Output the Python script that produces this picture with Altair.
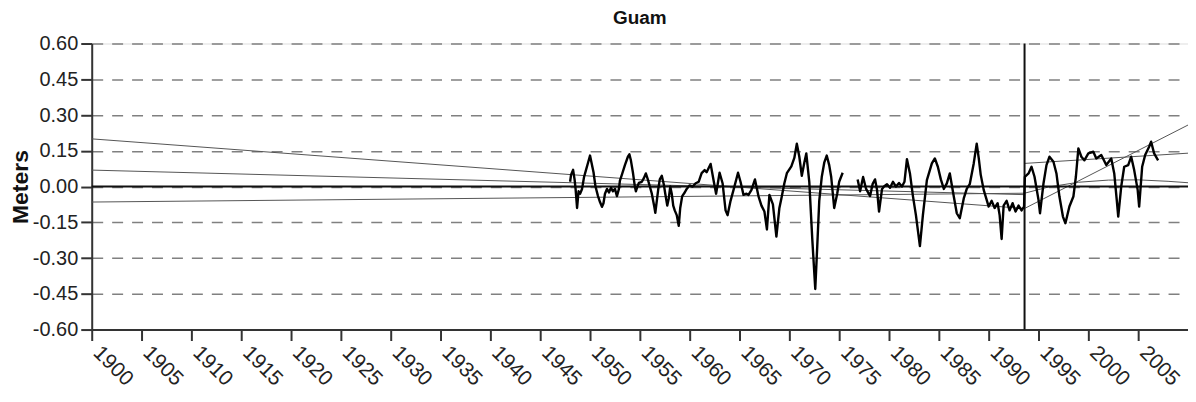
import altair as alt
import pandas as pd

# ---- observed series, segment 1 (1948 - 1975) ----
years_1 = [1948.0, 1948.1, 1948.3, 1948.45, 1948.55, 1948.7, 1948.85, 1949.0, 1949.2, 1949.4,
           1949.6, 1949.8, 1950.0, 1950.15, 1950.35, 1950.55, 1950.8, 1951.0, 1951.2, 1951.35,
           1951.5, 1951.7, 1951.9, 1952.1, 1952.3, 1952.5, 1952.7, 1952.9, 1953.0, 1953.2,
           1953.5, 1953.8, 1953.95, 1954.1, 1954.3, 1954.5, 1954.6, 1954.75, 1954.9, 1955.2,
           1955.4, 1955.6, 1955.8, 1956.0, 1956.2, 1956.45, 1956.55, 1956.7, 1956.85, 1957.0,
           1957.2, 1957.4, 1957.55, 1957.75, 1957.9, 1958.05, 1958.2, 1958.35, 1958.5, 1958.7,
           1958.9, 1959.05, 1959.25, 1959.5, 1959.7, 1960.0, 1960.3, 1960.6, 1960.9, 1961.2,
           1961.5, 1961.7, 1962.1, 1962.4, 1962.65, 1963.0, 1963.3, 1963.6, 1963.8, 1964.1,
           1964.4, 1964.85, 1965.1, 1965.4, 1965.7, 1965.9, 1966.2, 1966.55, 1966.9, 1967.2,
           1967.5, 1967.75, 1968.0, 1968.35, 1968.7, 1969.0, 1969.2, 1969.5, 1969.75, 1970.2,
           1970.5, 1970.75, 1971.0, 1971.25, 1971.5, 1971.7, 1972.0, 1972.3, 1972.6, 1972.8,
           1973.0, 1973.25, 1973.5, 1973.75, 1974.0, 1974.2, 1974.5, 1974.8, 1975.0, 1975.35]
values_1 = [0.02, 0.05, 0.07, 0.03, -0.01, -0.09, -0.02, -0.03, -0.01, 0.04,
            0.07, 0.10, 0.13, 0.10, 0.06, 0.00, -0.04, -0.065, -0.085, -0.07,
            -0.03, -0.01, -0.025, -0.005, -0.02, -0.01, -0.04, -0.01, 0.025, 0.05,
            0.09, 0.125, 0.135, 0.11, 0.06, 0.00, -0.02, 0.00, 0.015, 0.02,
            0.035, 0.055, 0.03, 0.00, -0.03, -0.085, -0.11, -0.06, -0.01, 0.03,
            0.045, 0.01, -0.03, -0.08, -0.05, 0.00, -0.03, -0.08, -0.10, -0.12,
            -0.165, -0.09, -0.04, -0.025, -0.01, 0.005, 0.00, 0.014, 0.02, 0.056,
            0.069, 0.06, 0.095, 0.025, -0.03, 0.058, 0.014, -0.10, -0.12, -0.06,
            -0.014, 0.058, 0.02, -0.035, -0.03, -0.035, -0.014, 0.03, -0.04, -0.08,
            -0.105, -0.18, -0.035, -0.075, -0.21, -0.09, -0.05, 0.014, 0.056, 0.085,
            0.12, 0.18, 0.125, 0.045, 0.10, 0.139, 0.02, -0.22, -0.43, -0.25,
            -0.06, 0.04, 0.10, 0.13, 0.09, 0.04, -0.09, -0.03, 0.02, 0.058]

# ---- observed series, segment 2 (1977 - 2007) ----
years_2 = [1976.85, 1977.1, 1977.4, 1977.7, 1978.1, 1978.35, 1978.6, 1978.8, 1979.0, 1979.3,
           1979.5, 1979.8, 1980.1, 1980.4, 1980.7, 1981.0, 1981.3, 1981.55, 1981.8, 1982.1,
           1982.4, 1982.7, 1983.1, 1983.4, 1983.8, 1984.3, 1984.6, 1984.9, 1985.2, 1985.5,
           1985.8, 1986.1, 1986.5, 1986.8, 1987.1, 1987.5, 1987.8, 1988.1, 1988.5, 1988.8,
           1989.0, 1989.2, 1989.5, 1990.0, 1990.3, 1990.6, 1990.9, 1991.1, 1991.3, 1991.5,
           1991.8, 1992.1, 1992.4, 1992.7, 1993.0, 1993.3, 1993.55, 1993.63, 1994.0, 1994.3,
           1994.6, 1995.0, 1995.15, 1995.5, 1995.8, 1996.1, 1996.5, 1996.8, 1997.1, 1997.45,
           1997.7, 1998.1, 1998.5, 1998.75, 1999.0, 1999.3, 1999.6, 2000.0, 2000.5, 2000.8,
           2001.3, 2001.8, 2002.3, 2002.6, 2002.85, 2003.0, 2003.3, 2003.6, 2004.0, 2004.3,
           2004.6, 2004.95, 2005.1, 2005.4, 2005.7, 2006.1, 2006.3, 2006.6, 2007.0]
values_2 = [0.03, -0.02, 0.04, -0.01, -0.04, 0.01, 0.03, -0.014, -0.105, -0.01,
            0.0, 0.01, -0.005, 0.02, 0.0, 0.015, 0.0, 0.02, 0.115, 0.055,
            -0.04, -0.12, -0.25, -0.12, 0.027, 0.097, 0.118, 0.083, 0.03, -0.01,
            0.013, 0.055, -0.042, -0.112, -0.133, -0.05, -0.01, 0.01, 0.097, 0.18,
            0.12, 0.05, -0.014, -0.084, -0.06, -0.09, -0.07, -0.12, -0.22, -0.08,
            -0.06, -0.10, -0.07, -0.105, -0.08, -0.10, -0.084, 0.041, 0.055, 0.083,
            0.041, -0.056, -0.112, 0.013, 0.09, 0.125, 0.104, 0.055, -0.042, -0.126,
            -0.154, -0.084, -0.042, 0.041, 0.16, 0.125, 0.11, 0.139, 0.146, 0.118,
            0.132, 0.09, 0.118, 0.055, -0.056, -0.126, 0.0, 0.083, 0.09, 0.125,
            0.069, -0.014, -0.084, 0.083, 0.132, 0.167, 0.188, 0.139, 0.11]

# ---- fitted trend lines (piecewise, break at 1993.6) ----
fit_ids = ["A1", "A1", "A2", "A2", "B1", "B1", "B2", "B2", "C1", "C1",
           "C2", "C2", "C2", "C2", "C2", "C2", "C2"]
fit_years = [1900, 1993.6, 1993.6, 2010, 1900, 1993.6, 1993.6, 2010, 1900, 1993.6,
             1993.6, 1996, 1999, 2002, 2005, 2008, 2010]
fit_values = [0.200, -0.092, -0.092, 0.258, 0.069, -0.034, 0.097, 0.140, -0.065, -0.028,
              -0.028, -0.002, 0.018, 0.027, 0.028, 0.022, 0.016]

break_year = [1993.6]
zero_level = [0.0]

x_ticks = list(range(1900, 2010, 5))
y_ticks = [-0.60, -0.45, -0.30, -0.15, 0.0, 0.15, 0.30, 0.45, 0.60]

FONT = "Liberation Sans"

obs = pd.DataFrame({
    "year": years_1 + years_2,
    "value": values_1 + values_2,
    "seg": ["s1"] * len(years_1) + ["s2"] * len(years_2),
})
fits = pd.DataFrame({"year": fit_years, "value": fit_values, "fit": fit_ids})

x_scale = alt.Scale(domain=[1900, 2010], nice=False, zero=False)
y_scale = alt.Scale(domain=[-0.6, 0.6], nice=False, zero=False)

x_axis = alt.Axis(
    values=x_ticks, format="d", title=None, grid=False,
    labelAngle=45, labelAlign="left", labelBaseline="alphabetic", labelPadding=13,
    labelFont=FONT, labelFontSize=21, labelColor="#222", labelOverlap=False,
    tickSize=11, tickWidth=2, tickColor="#333", domainColor="#333", domainWidth=2,
)
y_axis = alt.Axis(
    values=y_ticks, labelExpr="replace(format(datum.value, '.2f'), '\u2212', '-')",
    title="Meters", titleFont=FONT, titleFontSize=23, titleFontWeight="bold", titleColor="#111",
    titleX=-64, titleY=143.5, titleAngle=-90, titleAlign="center", titleBaseline="alphabetic",
    labelFont=FONT, labelFontSize=20, labelColor="#222", labelPadding=3, labelOverlap=False,
    tickSize=11, tickWidth=2, tickColor="#333", domainColor="#333", domainWidth=2,
    grid=True, gridDash=[11, 9], gridColor="#808080", gridWidth=1.5,
)


def xenc(field):
    return alt.X(field, scale=x_scale, axis=x_axis)


def yenc(field):
    return alt.Y(field, scale=y_scale, axis=y_axis)


fit_layer = alt.Chart(fits).mark_line(color="#555555", strokeWidth=1).encode(
    x=xenc("year:Q"), y=yenc("value:Q"), detail="fit:N",
)

zero_rule = alt.Chart(pd.DataFrame({"value": zero_level})).mark_rule(
    color="#111111", strokeWidth=2
).encode(y=yenc("value:Q"))

break_rule = alt.Chart(pd.DataFrame({"year": break_year})).mark_rule(
    color="#111111", strokeWidth=2
).encode(x=xenc("year:Q"))

obs_layer = alt.Chart(obs).mark_line(color="#000000", strokeWidth=2.4, strokeJoin="round").encode(
    x=xenc("year:Q"), y=yenc("value:Q"), detail="seg:N",
)

chart = alt.layer(fit_layer, zero_rule, break_rule, obs_layer).properties(
    width=1100,
    height=287,
    title=alt.Title("Guam", font=FONT, fontSize=19, fontWeight="bold", color="#111",
                    anchor="middle", frame="group", offset=6),
    autosize=alt.AutoSizeParams(type="none"),
    padding={"left": 84, "top": 35, "right": 0, "bottom": 60},
).configure_view(
    stroke="#333333", strokeWidth=2
).configure(background="white")

chart.save("out.html", embed_options={"renderer": "svg", "actions": False})
